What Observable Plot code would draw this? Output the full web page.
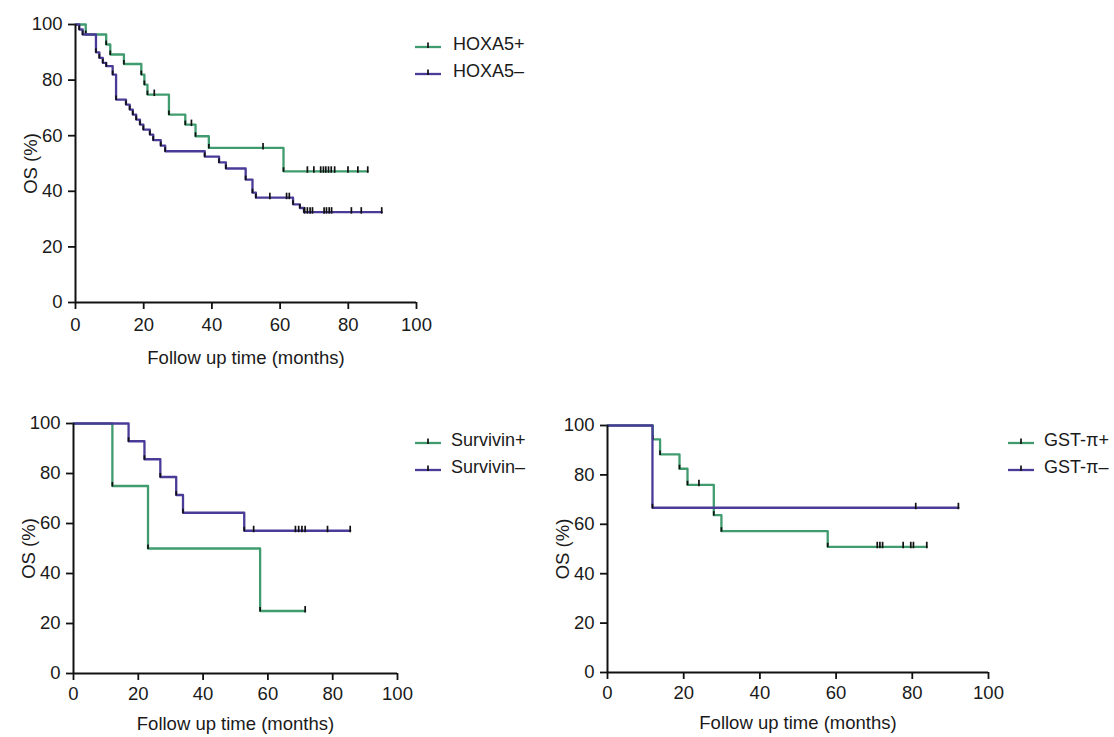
<!DOCTYPE html>
<html><head><meta charset="utf-8">
<script src="https://cdn.jsdelivr.net/npm/d3@7"></script>
<script src="https://cdn.jsdelivr.net/npm/@observablehq/plot@0.6"></script>
<style>
body{margin:0;background:#fff;font-family:"Liberation Sans",Arial,Helvetica,sans-serif;}
#wrap{position:relative;width:1114px;height:737px;overflow:hidden;}
.panel{position:absolute;}
.legend{position:absolute;font-size:18px;color:#1a1a1a;}
.legend .row{display:flex;align-items:center;height:27px;white-space:nowrap;}
.legend svg{margin-right:12px;}
</style></head><body><div id="wrap"></div>
<script>
const GREEN = "#409c6e", PURPLE = "#4b3b98";
const xTicks = [0, 20, 40, 60, 80, 100];
const yTicks = [0, 20, 40, 60, 80, 100];
const xLabel = "Follow up time (months)";
const yLabel = "OS (%)";

// Panel A: HOXA5
const hoxaPosTimes  = [0, 3, 9, 10.2, 14.2, 19.3, 20.2, 21.1, 27.4, 32.2, 35.2, 39.1, 61];
const hoxaPosSurv   = [100, 96.4, 92.8, 89.2, 85.8, 82, 78.4, 74.8, 67.6, 64, 59.8, 55.6, 47.2];
const hoxaPosCensor = [23.1, 34, 55, 68, 69.9, 71.9, 72.7, 73.4, 74.2, 75, 76, 79.9, 82.8, 85.7];
const hoxaNegTimes  = [0, 1.1, 2.1, 6, 7, 8, 9, 10.9, 11.9, 14.8, 15.9, 16.8, 17.8, 18.9, 19.9, 21.8, 22.8, 25, 26.3, 37.9, 42.1, 44.1, 49.9, 51.9, 52.9, 63.8, 65.8, 67];
const hoxaNegSurv   = [100, 98.2, 96.4, 90, 88, 86.2, 85, 82, 73, 71.2, 69.4, 67.6, 65.8, 64, 62.2, 60.4, 58.4, 56.4, 54.4, 52.5, 50.4, 48.2, 44.2, 39.5, 37.7, 35.3, 34, 32.5];
const hoxaNegCensor = [57, 61.9, 62.7, 67.2, 68, 68.8, 69.5, 72.9, 73.6, 74.4, 75.1, 80.9, 83.8, 89.8];

// Panel B: Survivin
const survPosTimes  = [0, 12, 23, 57.6];
const survPosSurv   = [100, 75, 50, 25];
const survPosCensor = [71.5];
const survNegTimes  = [0, 17, 21.9, 26.8, 31.7, 33.8, 52.7];
const survNegSurv   = [100, 92.9, 85.7, 78.6, 71.4, 64.3, 57.1];
const survNegCensor = [55.6, 68.5, 69.5, 70.5, 71.5, 78.4, 85.4];

// Panel C: GST-pi
const gstPosTimes  = [0, 11.9, 13.8, 18.9, 21, 27.9, 29.9, 57.8];
const gstPosSurv   = [100, 94.4, 88.3, 82.5, 76, 63.7, 57.2, 50.9];
const gstPosCensor = [24, 70.8, 71.5, 72.2, 77.6, 79.6, 80.3, 83.8];
const gstNegTimes  = [0, 11.8];
const gstNegSurv   = [100, 66.7];
const gstNegCensor = [80.9, 92.1];

function survAt(times, surv, t) {
  let s = surv[0];
  for (let i = 0; i < times.length; i++) if (times[i] <= t) s = surv[i];
  return s;
}
function series(times, surv, censor) {
  const end = Math.max(times[times.length - 1], ...censor);
  const line = times.map((t, i) => ({t, s: surv[i]}));
  line.push({t: end, s: surv[surv.length - 1]});
  const events = times.slice(1).map((t, i) => ({t, s: surv[i + 1]}));
  const cens = censor.map(t => ({t, s: survAt(times, surv, t)}));
  return {line, events, cens};
}
const censorSym = {draw(ctx) { ctx.moveTo(0, -5); ctx.lineTo(0, 1.5); }};
const eventSym = {draw(ctx) { ctx.moveTo(0, 0.5); ctx.lineTo(0, -4); }};

function kmMarks(s, color) {
  return [
    Plot.line(s.line, {x: "t", y: "s", curve: "step-after", stroke: color, strokeWidth: 2.3}),
    Plot.dot(s.events, {x: "t", y: "s", symbol: eventSym, stroke: "#111", strokeWidth: 1.7, fill: "none"}),
    Plot.dot(s.cens, {x: "t", y: "s", symbol: censorSym, stroke: "#111", strokeWidth: 1.7, fill: "none"})
  ];
}

function panel(cfg) {
  const p = Plot.plot({
    width: cfg.width, height: cfg.height,
    marginLeft: cfg.ml, marginRight: cfg.mr, marginTop: cfg.mt, marginBottom: cfg.mb,
    style: {fontSize: "18.5px", fontFamily: "Liberation Sans, Arial, Helvetica, sans-serif", color: "#1a1a1a", background: "transparent", overflow: "visible"},
    x: {domain: [0, 100]},
    y: {domain: [0, 100]},
    marks: [
      Plot.axisX({ticks: xTicks, tickSize: 7, tickPadding: cfg.xtp, strokeWidth: 1.8, stroke: "#111",
        label: xLabel, labelAnchor: "center", labelOffset: cfg.xlo, labelArrow: "none"}),
      Plot.axisY({ticks: yTicks, tickSize: 7, tickPadding: 6, strokeWidth: 1.8, stroke: "#111",
        label: yLabel, labelAnchor: "center", labelOffset: cfg.ylo, labelArrow: "none"}),
      ...kmMarks(cfg.pos, GREEN),
      ...kmMarks(cfg.neg, PURPLE),
      Plot.ruleX([0], {stroke: "#111", strokeWidth: 2}),
      Plot.ruleY([0], {stroke: "#111", strokeWidth: 2})
    ]
  });
  p.classList.add("panel");
  p.style.left = cfg.left + "px";
  p.style.top = cfg.top + "px";
  return p;
}

function legend(left, top, labels, gap) {
  const d = document.createElement("div");
  d.className = "legend";
  d.style.left = left + "px"; d.style.top = top + "px";
  labels.forEach(([text, color]) => {
    const r = document.createElement("div");
    r.className = "row";
    r.innerHTML = `<svg width="26" height="14" style="margin-right:${gap}px"><line x1="0" x2="26" y1="9" y2="9" stroke="${color}" stroke-width="2.3"/><line x1="13" x2="13" y1="4.5" y2="10" stroke="#111" stroke-width="1.7"/></svg><span>${text}</span>`;
    d.appendChild(r);
  });
  return d;
}

const wrap = document.getElementById("wrap");
wrap.appendChild(panel({left: 0, top: 0, width: 430, height: 380, ml: 75, mr: 14, mt: 24, mb: 78, ylo: 52, xtp: 8, xlo: 61,
  pos: series(hoxaPosTimes, hoxaPosSurv, hoxaPosCensor), neg: series(hoxaNegTimes, hoxaNegSurv, hoxaNegCensor)}));
wrap.appendChild(panel({left: 0, top: 390, width: 420, height: 347, ml: 73, mr: 23, mt: 33, mb: 64, ylo: 52, xtp: 6, xlo: 56,
  pos: series(survPosTimes, survPosSurv, survPosCensor), neg: series(survNegTimes, survNegSurv, survNegCensor)}));
wrap.appendChild(panel({left: 530, top: 390, width: 475, height: 347, ml: 77, mr: 17, mt: 35, mb: 65, ylo: 52, xtp: 6, xlo: 56,
  pos: series(gstPosTimes, gstPosSurv, gstPosCensor), neg: series(gstNegTimes, gstNegSurv, gstNegCensor)}));
wrap.appendChild(legend(415, 31, [["HOXA5+", GREEN], ["HOXA5\u2013", PURPLE]], 12));
wrap.appendChild(legend(415, 427, [["Survivin+", GREEN], ["Survivin\u2013", PURPLE]], 10));
wrap.appendChild(legend(1008, 427, [["GST-\u03c0+", GREEN], ["GST-\u03c0\u2013", PURPLE]], 10));
</script></body></html>
